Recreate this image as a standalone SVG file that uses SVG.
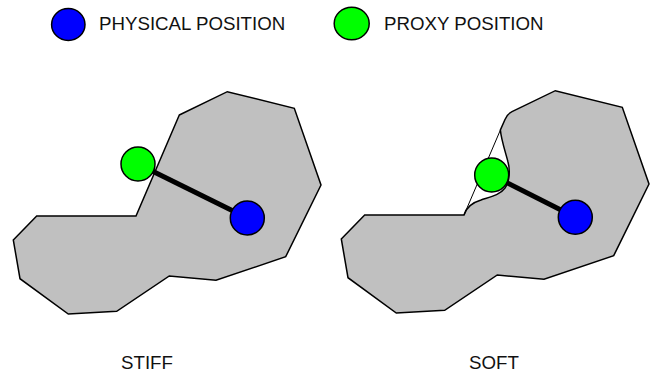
<svg xmlns="http://www.w3.org/2000/svg" width="650" height="375" viewBox="0 0 650 375">
<style>
.shape{fill:#c0c0c0;stroke:#000;stroke-width:1.5;stroke-linejoin:miter}
.thin{fill:none;stroke:#000;stroke-width:1}
.phys{fill:#0000ff;stroke:#000;stroke-width:1.5}
.proxy{fill:#00ff00;stroke:#000;stroke-width:1.5}
.link{stroke:#000;stroke-width:5;fill:none}
.lbl{font-family:"Liberation Sans",Arial,sans-serif;font-size:18.7px;fill:#111}
</style>
<defs>
<polygon id="body" points="179.3,115 227.3,91.7 294.3,108.3 321,185 285.7,256.7 216,280.3 169.3,276 116.7,311.3 68.3,314 20,278.7 13.3,240 36.7,216 136,216"/>
</defs>
<g id="legend">
<g id="legend-physical">
<ellipse class="phys" cx="68.3" cy="24.5" rx="16.7" ry="16"/>
<text class="lbl" x="99" y="29.5">PHYSICAL POSITION</text>
</g>
<g id="legend-proxy">
<ellipse class="proxy" cx="351.7" cy="23.5" rx="17.5" ry="16.3"/>
<text class="lbl" x="384" y="29.5">PROXY POSITION</text>
</g>
</g>
<g id="stiff-object">
<use href="#body" class="shape"/>
</g>
<g id="soft-object" transform="translate(328,-1)">
<path class="shape" d="M136,216 C138,209 143,204 153,201 C162,198 172,196 177,189 C182,182 182,170 180,163 C178,155 173,140 172.4,131 L177,120.5 Q179.3,115 184,112.7 L227.3,91.7 L294.3,108.3 L321,185 L285.7,256.7 L216,280.3 L169.3,276 L116.7,311.3 L68.3,314 L20,278.7 L13.3,240 L36.7,216 Z"/>
<line class="thin" x1="136" y1="216" x2="172.4" y2="131"/>
</g>
<g id="connectors">
<line id="stiff-link" class="link" x1="138" y1="164" x2="247.3" y2="218"/>
<line id="soft-link" class="link" x1="491.7" y1="175" x2="575.3" y2="217.3"/>
</g>
<g id="stiff-proxy"><circle class="proxy" cx="138" cy="164" r="17"/></g>
<g id="stiff-physical"><circle class="phys" cx="247.3" cy="218" r="17"/></g>
<g id="soft-proxy"><circle class="proxy" cx="491.7" cy="175" r="17"/></g>
<g id="soft-physical"><circle class="phys" cx="575.3" cy="217.3" r="17"/></g>
<g id="labels">
<text id="stiff-label" class="lbl" x="121" y="369">STIFF</text>
<text id="soft-label" class="lbl" x="469" y="369">SOFT</text>
</g>
</svg>
